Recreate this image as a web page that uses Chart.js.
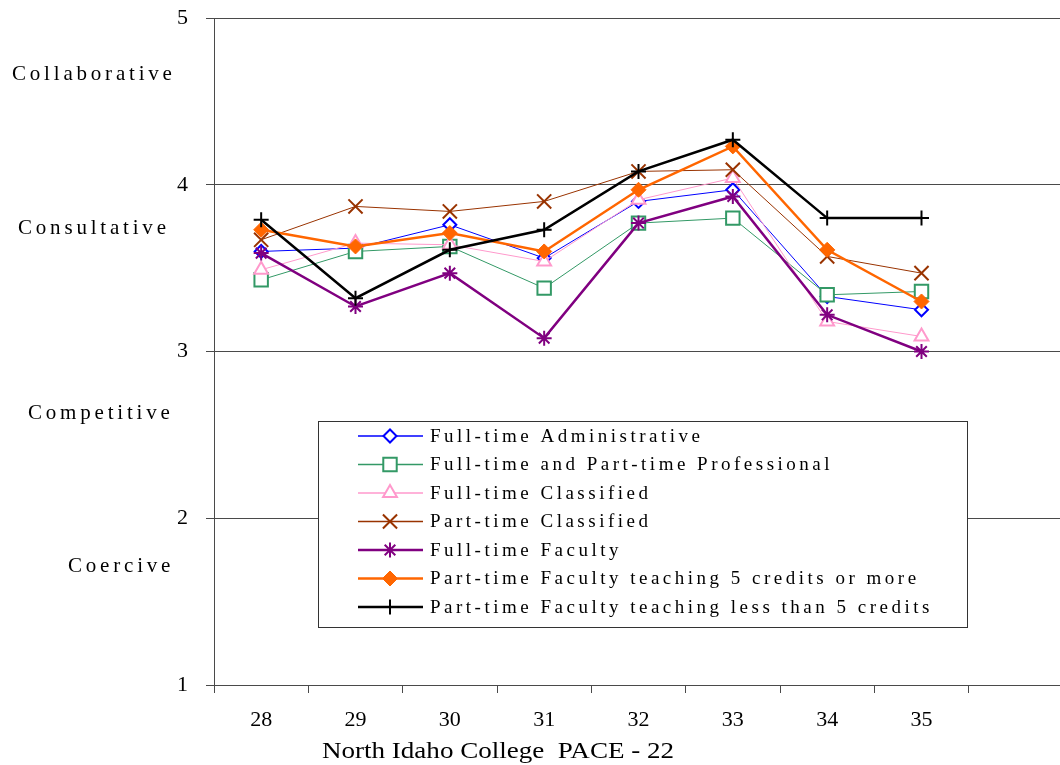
<!DOCTYPE html>
<html>
<head>
<meta charset="utf-8">
<script src="https://cdn.jsdelivr.net/npm/chart.js@4.4.1/dist/chart.umd.min.js"></script>
<style>
  html, body { margin: 0; padding: 0; background: #ffffff; overflow: hidden; }
  #wrap { position: relative; width: 1075px; height: 765px; }
</style>
</head>
<body>
<div id="wrap"><canvas id="c" width="1075" height="765"></canvas></div>
<script>
// ---- Data ----
const categories = ['28', '29', '30', '31', '32', '33', '34', '35', ''];
const yTicks = [1, 2, 3, 4, 5];
const zoneLabels = ['Collaborative', 'Consultative', 'Competitive', 'Coercive'];
const seriesNames = [
  'Full-time Administrative',
  'Full-time and Part-time Professional',
  'Full-time Classified',
  'Part-time Classified',
  'Full-time Faculty',
  'Part-time Faculty teaching 5 credits or more',
  'Part-time Faculty teaching less than 5 credits'
];
const fullTimeAdministrative = [3.60, 3.62, 3.76, 3.56, 3.90, 3.97, 3.33, 3.25];
const professional           = [3.43, 3.60, 3.63, 3.38, 3.77, 3.80, 3.34, 3.36];
const fullTimeClassified     = [3.49, 3.65, 3.64, 3.54, 3.91, 4.04, 3.18, 3.09];
const partTimeClassified     = [3.67, 3.87, 3.84, 3.90, 4.08, 4.09, 3.57, 3.47];
const fullTimeFaculty        = [3.59, 3.27, 3.47, 3.08, 3.77, 3.93, 3.22, 3.00];
const partTimeFaculty5Plus   = [3.73, 3.63, 3.71, 3.60, 3.97, 4.23, 3.61, 3.30];
const partTimeFacultyUnder5  = [3.79, 3.32, 3.61, 3.73, 4.08, 4.27, 3.80, 3.80];
const footerText = 'North Idaho College  PACE - 22';

// ---- Styles ----
const SERIF = "'Liberation Serif', 'Times New Roman', serif";
const styles = [
  { color: '#0000ff', width: 1,   point: 'rectRot',  radius: 6.5, pbw: 2, fill: '#ffffff' },
  { color: '#339966', width: 1,   point: 'rect',     radius: 9.5, pbw: 2, fill: '#ffffff' },
  { color: '#ff99cc', width: 1,   point: 'triangle', radius: 8,   pbw: 2, fill: '#ffffff' },
  { color: '#993300', width: 1,   point: 'crossRot', radius: 10,  pbw: 2, fill: '#ffffff' },
  { color: '#800080', width: 2.5, point: 'star',     radius: 7.5, pbw: 2, fill: '#800080' },
  { color: '#ff6600', width: 2.5, point: 'rectRot',  radius: 7.5, pbw: 1, fill: '#ff6600' },
  { color: '#000000', width: 2.5, point: 'cross',    radius: 7.5, pbw: 2, fill: '#000000' }
];
const seriesValues = [fullTimeAdministrative, professional, fullTimeClassified,
  partTimeClassified, fullTimeFaculty, partTimeFaculty5Plus, partTimeFacultyUnder5];

const datasets = seriesValues.map((vals, i) => ({
  label: seriesNames[i],
  data: vals,
  borderColor: styles[i].color,
  borderWidth: styles[i].width,
  backgroundColor: styles[i].fill,
  pointStyle: styles[i].point,
  pointRadius: styles[i].radius,
  pointBorderWidth: styles[i].pbw,
  pointBorderColor: styles[i].color,
  pointBackgroundColor: styles[i].fill,
  tension: 0,
  fill: false,
  order: seriesValues.length - i
}));

// Zone labels: [left x in px, value on y axis]
const zoneLabelPlacement = [[12, 4.66], [18, 3.74], [28, 2.63], [68, 1.71]];

const extrasPlugin = {
  id: 'extras',
  afterDraw(chart) {
    const ctx = chart.ctx;
    const ys = chart.scales.y;
    // zone labels
    ctx.save();
    ctx.font = '21px ' + SERIF;
    ctx.fillStyle = '#000';
    ctx.textAlign = 'left';
    ctx.textBaseline = 'middle';
    ctx.letterSpacing = '3.8px';
    zoneLabels.forEach((t, i) => {
      const [x, v] = zoneLabelPlacement[i];
      ctx.fillText(t, x, ys.getPixelForValue(v));
    });
    ctx.restore();

    // legend
    ctx.save();
    const bx = 318.5, by = 421.5, bw = 649, bh = 206;
    ctx.fillStyle = '#ffffff';
    ctx.fillRect(bx, by, bw, bh);
    ctx.strokeStyle = '#333';
    ctx.lineWidth = 1;
    ctx.strokeRect(bx, by, bw, bh);
    ctx.font = '19px ' + SERIF;
    ctx.textAlign = 'left';
    ctx.textBaseline = 'middle';
    ctx.letterSpacing = '3.5px';
    chart.data.datasets.forEach((ds, i) => {
      const y = 436 + i * 28.5;
      ctx.beginPath();
      ctx.strokeStyle = ds.borderColor;
      ctx.lineWidth = Math.max(ds.borderWidth, 1.5);
      ctx.moveTo(358, y);
      ctx.lineTo(423, y);
      ctx.stroke();
      ctx.fillStyle = ds.pointBackgroundColor;
      ctx.strokeStyle = ds.pointBorderColor;
      ctx.lineWidth = ds.pointBorderWidth;
      Chart.helpers.drawPoint(ctx, {
        pointStyle: ds.pointStyle, radius: ds.pointRadius, rotation: 0,
        borderWidth: ds.pointBorderWidth
      }, 390, y);
      ctx.fillStyle = '#000';
      ctx.fillText(ds.label, 430, y + 1);
    });
    ctx.restore();

    // footer
    ctx.save();
    ctx.font = '24px ' + SERIF;
    ctx.fillStyle = '#000';
    ctx.textBaseline = 'middle';
    const w = ctx.measureText(footerText).width;
    ctx.translate(322, 752);
    ctx.scale(352 / w, 1);
    ctx.fillText(footerText, 0, 0);
    ctx.restore();
  }
};

new Chart(document.getElementById('c'), {
  type: 'line',
  data: { labels: categories, datasets },
  options: {
    responsive: false,
    animation: false,
    layout: { padding: { left: 0, right: 5, top: 18, bottom: 0 } },
    plugins: { legend: { display: false }, tooltip: { enabled: false } },
    scales: {
      x: {
        type: 'category',
        offset: true,
        grid: { offset: true, drawOnChartArea: false, drawTicks: true, tickLength: 8, color: '#4a4a4a' },
        border: { display: true, color: '#4a4a4a', width: 1 },
        ticks: { font: { family: SERIF, size: 22 }, color: '#000', padding: 14, maxRotation: 0, autoSkip: false },
        afterFit(s) { s.height = 80; s.paddingLeft = 0; s.paddingRight = 0; }
      },
      y: {
        min: yTicks[0], max: yTicks[yTicks.length - 1],
        afterBuildTicks(s) { s.ticks = yTicks.map(v => ({ value: v })); },
        grid: { color: '#4a4a4a', tickLength: 8, drawTicks: true },
        border: { display: true, color: '#4a4a4a', width: 1 },
        ticks: { font: { family: SERIF, size: 22 }, color: '#000', padding: 18 },
        afterFit(s) { s.width = 214; s.paddingTop = 0; s.paddingBottom = 0; }
      }
    }
  },
  plugins: [extrasPlugin]
});
</script>
</body>
</html>
